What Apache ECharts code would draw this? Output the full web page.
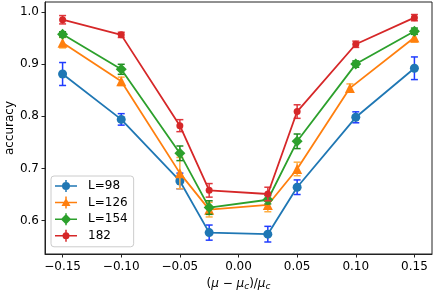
<!DOCTYPE html>
<html>
<head>
<meta charset="utf-8">
<script src="https://cdn.jsdelivr.net/npm/echarts@6/dist/echarts.min.js"></script>
<style>
html,body{margin:0;padding:0;background:#fff;}
#c{width:436px;height:294px;}
</style>
</head>
<body>
<div id="c"></div>
<script>
// ---- data ----
const seriesNames = ['L=98', 'L=126', 'L=154', '182'];
const xL98  = [-0.15, -0.10, -0.05, -0.025, 0.025, 0.05, 0.10, 0.15];
const xL126 = [-0.15, -0.10, -0.05, -0.025, 0.025, 0.05, 0.095, 0.15];
const xL154 = [-0.15, -0.10, -0.05, -0.025, 0.025, 0.05, 0.10, 0.15];
const xL182 = [-0.15, -0.10, -0.05, -0.025, 0.025, 0.05, 0.10, 0.15];
const accL98  = [0.881, 0.794, 0.676, 0.577, 0.574, 0.664, 0.798, 0.892];
const accL126 = [0.941, 0.867, 0.691, 0.621, 0.630, 0.699, 0.854, 0.951];
const accL154 = [0.957, 0.890, 0.729, 0.625, 0.640, 0.752, 0.900, 0.963];
const accL182 = [0.985, 0.956, 0.782, 0.658, 0.651, 0.809, 0.938, 0.989];
const errL98  = [0.022, 0.011, 0.015, 0.0145, 0.015, 0.014, 0.0105, 0.0217];
const errL126 = [0.010, 0.008, 0.030, 0.014, 0.013, 0.013, 0.008, 0.009];
const errL154 = [0.005, 0.0096, 0.014, 0.013, 0.008, 0.014, 0.006, 0.006];
const errL182 = [0.008, 0.005, 0.0115, 0.013, 0.013, 0.013, 0.006, 0.006];
const xTicks = [-0.15, -0.10, -0.05, 0.00, 0.05, 0.10, 0.15];
const yTicks = [0.6, 0.7, 0.8, 0.9, 1.0];

// ---- styling ----
const xs = [xL98, xL126, xL154, xL182];
const accs = [accL98, accL126, accL154, accL182];
const errs = [errL98, errL126, errL154, errL182];
const colors = ['#1f77b4', '#ff7f0e', '#2ca02c', '#d62728'];
const errColors = ['#1f3cff', '#ffae42', '#1f8a1f', '#e0363c'];
const symbols = ['circle', 'triangle', 'diamond', 'circle'];
const symbolSizes = [9, 10, 11, 7];
const FONT = 'DejaVu Sans';
const FS = 12;

const lineH = 'M0 5.25H22V6.75H0Z';
const barV = 'M10.25 0H11.75V12H10.25Z';
const icons = [
  'path://' + lineH + barV + 'M15 6A4 4 0 1 1 7 6A4 4 0 1 1 15 6Z',
  'path://' + lineH + barV + 'M11 1.5L15.5 9.5L6.5 9.5Z',
  'path://' + lineH + barV + 'M11 0.8L16.2 6L11 11.2L5.8 6Z',
  'path://' + lineH + barV + 'M14.5 6A3.5 3.5 0 1 1 7.5 6A3.5 3.5 0 1 1 14.5 6Z'
];

function fmtMinus(v, d) {
  const s = Math.abs(v).toFixed(d);
  return (v < -1e-9 ? '\u2212' : '') + s;
}

const series = [];
for (let i = 0; i < 4; i++) {
  const pts = xs[i].map((x, k) => [x, accs[i][k]]);
  const epts = xs[i].map((x, k) => [x, accs[i][k], errs[i][k]]);
  series.push({
    name: 'err' + i,
    type: 'custom',
    z: 10 + 2 * i,
    silent: true,
    data: epts,
    renderItem: (function (col) {
      return function (params, api) {
        const x = api.value(0), y = api.value(1), e = api.value(2);
        const p1 = api.coord([x, y + e]);
        const p2 = api.coord([x, y - e]);
        const cw = 3.5;
        const st = { stroke: col, lineWidth: 1.5 };
        return {
          type: 'group',
          children: [
            { type: 'line', shape: { x1: p1[0], y1: p1[1], x2: p2[0], y2: p2[1] }, style: st },
            { type: 'line', shape: { x1: p1[0] - cw, y1: p1[1], x2: p1[0] + cw, y2: p1[1] }, style: st },
            { type: 'line', shape: { x1: p2[0] - cw, y1: p2[1], x2: p2[0] + cw, y2: p2[1] }, style: st }
          ]
        };
      };
    })(errColors[i])
  });
  series.push({
    name: seriesNames[i],
    type: 'line',
    z: 11 + 2 * i,
    data: pts,
    symbol: symbols[i],
    symbolSize: symbolSizes[i],
    showAllSymbol: true,
    lineStyle: { color: colors[i], width: 1.8 },
    itemStyle: { color: colors[i] },
    emphasis: { disabled: true },
    animation: false
  });
}

const chart = echarts.init(document.getElementById('c'), null, { renderer: 'canvas' });
chart.setOption({
  animation: false,
  backgroundColor: '#fff',
  grid: { left: 45, right: 4, top: 2, bottom: 40, containLabel: false, outerBoundsMode: 'none', show: true, borderColor: '#222', borderWidth: 1, backgroundColor: 'transparent' },
  legend: {
    orient: 'vertical',
    left: 51, top: 176,
    itemWidth: 22, itemHeight: 12, itemGap: 4.6,
    padding: [4, 6, 5, 4],
    backgroundColor: 'rgba(255,255,255,0.8)',
    borderColor: '#cccccc', borderWidth: 1, borderRadius: 3,
    textStyle: { fontFamily: FONT, fontSize: FS, color: '#000', padding: [0, 0, 0, 6] },
    data: seriesNames.map((n, i) => ({ name: n, icon: icons[i] })),
    selectedMode: false
  },
  xAxis: {
    type: 'value',
    min: -0.165, max: 0.165,
    name: '{n|(}{i|μ}{n| \u2212 }{i|μ}{s|c}{n|)/}{i|μ}{s|c}',
    nameLocation: 'middle',
    nameGap: 23,
    nameTextStyle: {
      rich: {
        n: { fontFamily: FONT, fontSize: FS, color: '#000' },
        i: { fontFamily: FONT, fontSize: FS, fontStyle: 'italic', color: '#000' },
        s: { fontFamily: FONT, fontSize: 9, fontStyle: 'italic', color: '#000', padding: [5, 0, 0, 0] }
      }
    },
    splitLine: { show: false },
    axisLine: { show: true, onZero: false, lineStyle: { color: '#222', width: 1 } },
    axisTick: { show: true, length: 3.5, lineStyle: { color: '#222' }, customValues: xTicks },
    axisLabel: { fontFamily: FONT, fontSize: FS, color: '#000', margin: 7, customValues: xTicks, formatter: v => fmtMinus(v, 2) }
  },
  yAxis: {
    type: 'value',
    min: 0.536, max: 1.019,
    name: 'accuracy',
    nameLocation: 'middle',
    nameGap: 29,
    nameMoveOverlap: false,
    nameTextStyle: { fontFamily: FONT, fontSize: FS, color: '#000' },
    splitLine: { show: false },
    axisLine: { show: true, onZero: false, lineStyle: { color: '#222', width: 1 } },
    axisTick: { show: true, length: 3.5, lineStyle: { color: '#222' }, customValues: yTicks },
    axisLabel: { fontFamily: FONT, fontSize: FS, color: '#000', margin: 6, customValues: yTicks, formatter: v => v.toFixed(1) }
  },
  series: series
});
</script>
</body>
</html>
